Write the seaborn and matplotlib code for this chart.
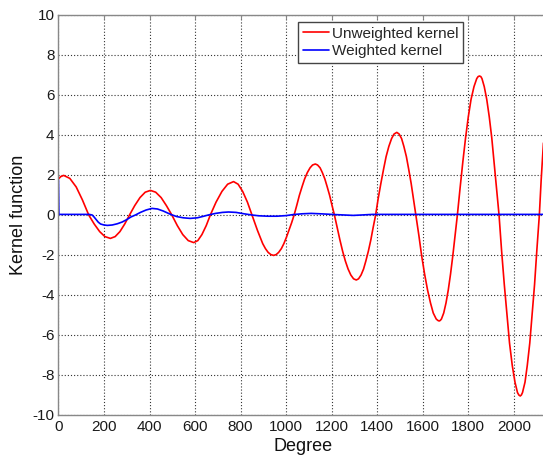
import matplotlib
matplotlib.use("Agg")
import matplotlib.pyplot as plt
import numpy as np
import pandas as pd
import seaborn as sns

# Unweighted kernel sampled along the degree axis
red_deg = [0, 10, 23, 50, 78, 105, 133,
           157, 181, 204, 228, 249, 270, 291, 312,
           335, 358, 381, 404, 427, 451, 474, 498,
           522, 546, 570, 594, 612, 630, 649, 667,
           692, 718, 743, 769, 789, 809, 830, 850,
           862, 874, 886, 897, 909, 921, 933, 945,
           956, 967, 979, 990, 1001, 1012, 1024, 1035,
           1047, 1058, 1070, 1081, 1093, 1105, 1116, 1128,
           1138, 1149, 1159, 1170, 1180, 1191, 1201, 1212,
           1224, 1236, 1248, 1260, 1272, 1284, 1296, 1308,
           1318, 1329, 1340, 1350, 1361, 1372, 1382, 1393,
           1404, 1416, 1428, 1439, 1451, 1463, 1474, 1486,
           1496, 1507, 1517, 1528, 1538, 1549, 1559, 1570,
           1583, 1595, 1608, 1621, 1634, 1646, 1659, 1666, 1672,
           1677, 1682, 1692, 1702, 1712, 1722, 1732, 1742, 1752,
           1764, 1776, 1788, 1800, 1812, 1825, 1837, 1843, 1849,
           1855, 1860, 1870, 1881, 1892, 1903, 1913, 1924, 1935,
           1946, 1958, 1970, 1981, 1993, 2005, 2016, 2022, 2028,
           2033, 2038, 2049, 2059, 2070, 2080, 2091, 2101, 2112,
           2120, 2130]
red_val = [1.80, 1.92, 1.98, 1.83, 1.40, 0.76, 0.0,
           -0.45, -0.83, -1.08, -1.17, -1.08, -0.83, -0.45, 0.0,
           0.47, 0.87, 1.14, 1.23, 1.14, 0.87, 0.47, 0.0,
           -0.53, -0.98, -1.28, -1.38, -1.28, -0.98, -0.53, 0.0,
           0.64, 1.18, 1.54, 1.67, 1.54, 1.18, 0.64, 0.0,
           -0.39, -0.77, -1.12, -1.43, -1.68, -1.87, -1.98, -2.02,
           -1.98, -1.87, -1.68, -1.43, -1.12, -0.77, -0.39, 0.0,
           0.50, 0.98, 1.42, 1.80, 2.12, 2.36, 2.50, 2.55,
           2.50, 2.36, 2.12, 1.80, 1.42, 0.98, 0.50, 0.0,
           -0.63, -1.24, -1.81, -2.30, -2.70, -3.00, -3.19, -3.25,
           -3.19, -3.00, -2.70, -2.30, -1.81, -1.24, -0.63, 0.0,
           0.81, 1.58, 2.30, 2.92, 3.43, 3.82, 4.05, 4.13,
           4.05, 3.82, 3.43, 2.92, 2.30, 1.58, 0.81, 0.0,
           -1.03, -2.03, -2.95, -3.75, -4.40, -4.90, -5.20, -5.27, -5.30,
           -5.27, -5.20, -4.90, -4.40, -3.75, -2.95, -2.03, -1.03, 0.0,
           1.36, 2.66, 3.86, 4.91, 5.78, 6.42, 6.82, 6.92, 6.95,
           6.92, 6.82, 6.42, 5.78, 4.91, 3.86, 2.66, 1.36, 0.0,
           -1.76, -3.47, -5.03, -6.40, -7.52, -8.36, -8.88, -9.00, -9.05,
           -9.00, -8.88, -8.36, -7.52, -6.40, -5.03, -3.47, -1.76, 0.0,
           1.75, 3.6]

# Weighted kernel sampled along the degree axis
blue_deg = [0, 2, 135, 148, 155, 165, 175, 185, 200, 215, 236, 258, 280,
            300, 318, 338, 360, 385, 411, 435, 460, 485, 500, 520, 548,
            579, 610, 635, 658, 690, 720, 747, 780, 815, 850, 880, 920,
            960, 1000, 1030, 1070, 1110, 1150, 1200, 1255, 1295, 1330,
            1380, 1600, 1800, 2000, 2130]
blue_val = [1.75, 0.03, 0.03, 0.0, -0.08, -0.22, -0.36, -0.45, -0.50,
            -0.52, -0.50, -0.44, -0.35, -0.23, -0.10, 0.0, 0.13, 0.25,
            0.33, 0.30, 0.20, 0.07, 0.0, -0.08, -0.14, -0.17, -0.14,
            -0.07, 0.0, 0.08, 0.13, 0.15, 0.13, 0.06, 0.0, -0.04, -0.06,
            -0.06, -0.03, 0.02, 0.06, 0.08, 0.06, 0.03, 0.0, -0.02, 0.0,
            0.03, 0.03, 0.03, 0.03, 0.03]

x_ticks = [0, 200, 400, 600, 800, 1000, 1200, 1400, 1600, 1800, 2000]
y_ticks = [-10, -8, -6, -4, -2, 0, 2, 4, 6, 8, 10]
series_names = ["Unweighted kernel", "Weighted kernel"]

df = pd.concat([
    pd.DataFrame({"Degree": red_deg, "value": red_val, "kernel": series_names[0]}),
    pd.DataFrame({"Degree": blue_deg, "value": blue_val, "kernel": series_names[1]}),
], ignore_index=True)

sns.set_style("white")
plt.rcParams["font.family"] = ["Liberation Sans", "DejaVu Sans"]

fig = plt.figure(figsize=(5.43, 4.55), dpi=100)
ax = fig.add_axes([58 / 543, 40 / 455, 490 / 543, 400 / 455])

sns.lineplot(data=df, x="Degree", y="value", hue="kernel",
             palette={series_names[0]: "#ff0000", series_names[1]: "#0000ff"},
             estimator=None, sort=False, linewidth=1.2, ax=ax, legend=True)

ax.set_xlim(-2, 2150)
ax.set_ylim(-10, 10)
ax.set_xticks(x_ticks)
ax.set_yticks(y_ticks)
ax.set_xticklabels([str(t) for t in x_ticks])
ax.set_yticklabels([str(t) for t in y_ticks])

ax.grid(True, linestyle=(0, (1, 1.8)), color="#333333", linewidth=0.8)
ax.set_axisbelow(True)

for side in ["left", "bottom", "top", "right"]:
    ax.spines[side].set_visible(True)
    ax.spines[side].set_color("#888888")
    ax.spines[side].set_linewidth(1.0)

ax.tick_params(axis="both", which="major", direction="in", length=3,
               color="#888888", labelsize=11, labelcolor="#1a1a1a",
               top=True, right=True)
ax.tick_params(axis="x", pad=3.5)
ax.tick_params(axis="y", pad=2.5)

ax.set_xlabel("Degree", fontsize=13, color="#111111", labelpad=3)
ax.set_ylabel("Kernel function", fontsize=13, color="#111111", labelpad=4)

leg = ax.legend(loc="upper left", bbox_to_anchor=(298 / 543, 1 - 22 / 455),
                bbox_transform=fig.transFigure, borderaxespad=0,
                fontsize=11, frameon=True, fancybox=False, shadow=False,
                framealpha=1, edgecolor="#444444", handlelength=1.75,
                handletextpad=0.2, borderpad=0.3, labelspacing=0.25)
leg.get_frame().set_linewidth(1.0)
for line in leg.get_lines():
    line.set_linewidth(1.2)

fig.savefig("out.png", dpi=100)
